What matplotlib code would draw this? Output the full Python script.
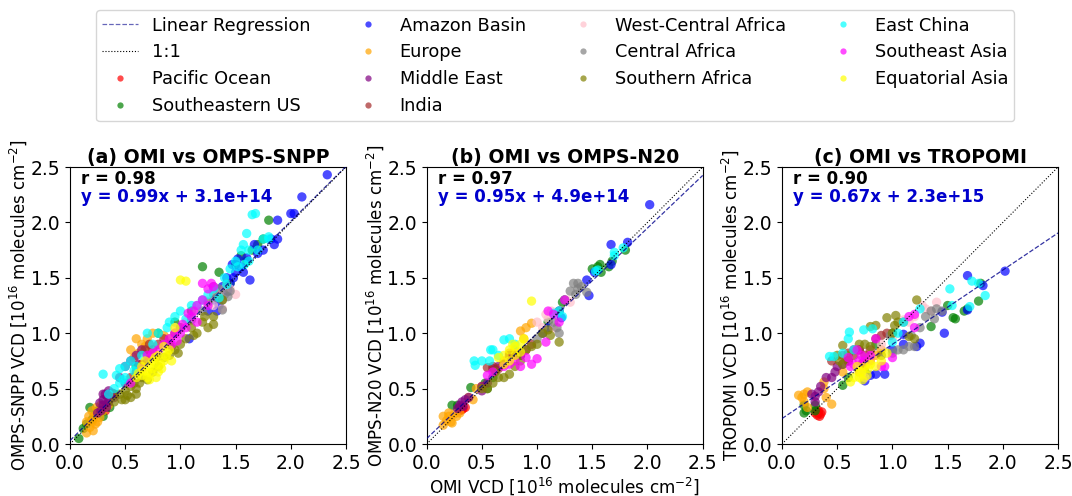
import matplotlib
matplotlib.use("Agg")
import matplotlib.pyplot as plt
from matplotlib.lines import Line2D
import numpy as np

# ---------------- data (units: 1e16 molecules cm^-2) ----------------
REGIONS = ["Pacific Ocean", "Southeastern US", "Amazon Basin", "Europe", "Middle East",
           "India", "West-Central Africa", "Central Africa", "Southern Africa",
           "East China", "Southeast Asia", "Equatorial Asia"]
COLORS = ["red", "green", "blue", "orange", "purple", "brown", "pink", "gray",
          "olive", "cyan", "magenta", "yellow"]

PANEL_TITLES = ["(a) OMI vs OMPS-SNPP", "(b) OMI vs OMPS-N20", "(c) OMI vs TROPOMI"]
PANEL_YLABELS = ["OMPS-SNPP VCD [$10^{16}$ molecules cm$^{-2}$]",
                 "OMPS-N20 VCD [$10^{16}$ molecules cm$^{-2}$]",
                 "TROPOMI VCD [$10^{16}$ molecules cm$^{-2}$]"]
X_LABEL = "OMI VCD [$10^{16}$ molecules cm$^{-2}$]"
R_VALUES = [0.98, 0.97, 0.90]
SLOPES = [0.99, 0.95, 0.67]
INTERCEPTS = [3.1e14, 4.9e14, 2.3e15]
FIT_TEXT = ["y = 0.99x + 3.1e+14", "y = 0.95x + 4.9e+14", "y = 0.67x + 2.3e+15"]
TICKS = [0.0, 0.5, 1.0, 1.5, 2.0, 2.5]

# Panel (a): OMI vs OMPS-SNPP
PAC_A = [(0.28, 0.30), (0.30, 0.32), (0.32, 0.30)]
SEUS_A = [(0.08, 0.05), (0.12, 0.14), (0.18, 0.33), (0.20, 0.22), (0.25, 0.30), (0.40, 0.45),
          (0.80, 1.00), (1.20, 1.60), (1.35, 1.55), (1.50, 1.62), (1.55, 1.70), (1.65, 1.75),
          (1.80, 2.02), (1.75, 1.85), (1.60, 1.65), (0.95, 1.10), (1.10, 1.20), (0.60, 0.70),
          (0.30, 0.25), (1.45, 1.45), (1.70, 1.80), (0.22, 0.26), (0.36, 0.33), (0.15, 0.18)]
AMZ_A = [(2.33, 2.43), (2.10, 2.23), (2.00, 2.08), (2.03, 2.08), (1.88, 2.02), (1.88, 1.85),
         (1.85, 1.80), (1.82, 1.85), (1.70, 1.72), (1.60, 1.68), (1.55, 1.60), (1.50, 1.55),
         (1.45, 1.45), (1.38, 1.42), (1.43, 1.38), (1.63, 1.48), (1.52, 1.67), (1.47, 1.62),
         (1.30, 1.30), (1.35, 1.25), (1.08, 0.95), (1.25, 1.20), (1.40, 1.40), (1.67, 1.80),
         (1.75, 1.75), (1.48, 1.50), (1.42, 1.50), (1.57, 1.55), (1.33, 1.20)]
EUR_A = [(0.15, 0.10), (0.18, 0.15), (0.20, 0.20), (0.22, 0.25), (0.25, 0.28), (0.15, 0.20),
         (0.20, 0.30), (0.28, 0.35), (0.30, 0.30), (0.23, 0.18), (0.25, 0.20), (0.35, 0.35),
         (0.60, 0.95), (0.65, 0.90), (0.70, 0.95), (0.75, 1.00), (0.85, 0.98), (0.55, 0.85),
         (0.90, 0.95), (0.62, 0.82), (0.17, 0.25), (0.21, 0.12), (0.27, 0.24), (0.24, 0.33),
         (0.68, 0.88), (0.58, 0.78)]
ME_A = [(0.28, 0.30), (0.30, 0.40), (0.32, 0.45), (0.35, 0.48), (0.30, 0.35), (0.35, 0.38),
        (0.25, 0.28), (0.40, 0.42), (0.50, 0.55), (0.55, 0.75), (0.60, 0.80), (0.65, 0.85),
        (0.70, 0.75), (0.50, 0.70), (0.45, 0.60), (0.33, 0.33), (0.30, 0.45), (0.34, 0.42),
        (0.38, 0.46), (0.27, 0.37), (0.62, 0.72)]
IND_A = [(0.55, 0.60), (0.60, 0.65), (0.70, 0.80), (0.75, 0.85), (0.80, 0.90), (0.85, 0.95),
         (0.90, 0.90), (0.95, 1.00), (1.00, 1.05), (0.65, 0.72), (0.78, 0.78), (0.40, 0.45),
         (0.68, 0.85), (0.72, 0.90)]
WCA_A = [(1.20, 1.30), (1.30, 1.25), (1.35, 1.35), (1.50, 1.35), (1.40, 1.40), (1.45, 1.40),
         (1.15, 1.20), (1.05, 1.10), (1.25, 1.30), (0.95, 1.05), (1.38, 1.22)]
CAF_A = [(1.30, 1.35), (1.35, 1.40), (1.40, 1.35), (1.45, 1.38), (1.38, 1.30), (1.25, 1.28),
         (1.38, 1.21), (1.42, 1.45), (1.30, 1.42), (1.20, 1.20), (1.10, 1.12), (1.00, 1.05),
         (1.33, 1.32), (1.43, 1.33)]
SAF_A = [(0.50, 0.40), (0.55, 0.42), (0.60, 0.45), (0.50, 0.48), (0.55, 0.52), (0.60, 0.50),
         (0.65, 0.60), (0.45, 0.45), (0.70, 0.58), (0.80, 0.70), (0.90, 0.80), (0.95, 0.85),
         (1.00, 0.90), (1.05, 0.95), (1.15, 1.00), (1.20, 1.10), (1.25, 1.05), (1.30, 1.15),
         (0.85, 0.78), (1.10, 1.05), (1.38, 1.30), (0.92, 0.88), (0.75, 0.65), (0.58, 0.55),
         (0.40, 0.38), (1.30, 1.08), (0.52, 0.44), (0.63, 0.55), (0.98, 0.82), (1.12, 0.98),
         (1.22, 1.15), (0.47, 0.40)]
ECH_A = [(0.30, 0.63), (0.40, 0.50), (0.45, 0.55), (0.50, 0.60), (0.50, 0.70), (0.55, 0.75),
         (0.60, 0.70), (0.65, 0.80), (0.70, 1.00), (0.75, 0.90), (0.80, 1.00), (0.90, 1.10),
         (0.95, 1.15), (1.00, 1.20), (1.10, 1.25), (1.15, 1.25), (1.20, 1.30), (1.30, 1.40),
         (1.40, 1.50), (1.45, 1.58), (1.50, 1.65), (1.55, 1.75), (1.57, 1.80), (1.65, 2.07),
         (1.68, 2.08), (1.60, 1.90), (1.62, 1.75), (1.70, 1.75), (1.75, 1.85), (1.80, 1.85),
         (1.52, 1.60), (0.35, 0.45), (0.45, 0.68), (1.35, 1.32), (1.62, 1.65), (1.80, 1.87),
         (0.42, 0.62), (0.48, 0.58), (0.58, 0.66), (0.88, 1.05), (1.05, 1.13), (1.25, 1.35),
         (1.42, 1.44), (1.58, 1.62)]
SEA_A = [(0.70, 0.80), (0.75, 0.82), (0.80, 0.85), (0.85, 0.90), (0.90, 0.95), (0.95, 1.00),
         (1.00, 1.00), (1.05, 1.05), (1.10, 1.15), (1.15, 1.25), (1.20, 1.30), (1.25, 1.40),
         (1.20, 1.45), (1.30, 1.42), (1.25, 1.25), (1.15, 1.10), (0.92, 0.90), (0.55, 0.55),
         (0.65, 0.68), (1.07, 1.18), (1.28, 1.45), (1.02, 1.08), (1.12, 1.20), (0.97, 0.93)]
EQA_A = [(0.60, 0.60), (0.65, 0.62), (0.70, 0.65), (0.72, 0.70), (0.75, 0.75), (0.78, 0.72),
         (0.80, 0.80), (0.85, 0.75), (0.88, 0.82), (0.70, 0.60), (0.75, 0.68), (0.80, 0.65),
         (0.82, 0.72), (0.90, 0.85), (0.65, 0.70), (0.68, 0.75), (0.85, 0.88), (0.78, 0.60),
         (0.95, 1.05), (1.00, 1.48), (1.05, 1.47), (0.92, 0.75), (0.72, 0.58), (0.73, 0.64),
         (0.77, 0.78), (0.83, 0.68), (0.87, 0.79), (0.66, 0.66), (0.62, 0.64)]

# Panel (b): OMI vs OMPS-N20
PAC_B = [(0.30, 0.30), (0.32, 0.31), (0.33, 0.32), (0.35, 0.33), (0.30, 0.33)]
SEUS_B = [(0.23, 0.35), (0.28, 0.35), (0.40, 0.51), (0.53, 0.55), (0.60, 0.60), (1.23, 1.28),
          (1.25, 1.30), (1.50, 1.58), (1.55, 1.60), (1.57, 1.62), (1.65, 1.60), (1.68, 1.65),
          (1.58, 1.55), (1.80, 1.75), (1.10, 1.10), (0.55, 0.50)]
AMZ_B = [(2.02, 2.16), (1.67, 1.80), (1.82, 1.82), (1.67, 1.62), (1.45, 1.48), (1.47, 1.34),
         (1.22, 1.14), (1.20, 1.20), (1.10, 1.05), (0.85, 0.80), (1.05, 1.00), (1.52, 1.55)]
EUR_B = [(0.15, 0.17), (0.15, 0.25), (0.20, 0.25), (0.22, 0.20), (0.20, 0.28), (0.25, 0.27),
         (0.27, 0.25), (0.23, 0.19), (0.18, 0.21), (0.42, 0.40), (0.45, 0.50), (0.50, 0.52),
         (0.85, 1.02), (0.90, 1.05), (0.95, 1.09), (0.88, 0.95), (0.80, 0.85), (0.70, 0.75),
         (0.75, 0.82), (0.38, 0.42), (0.30, 0.28)]
ME_B = [(0.30, 0.35), (0.32, 0.38), (0.35, 0.40), (0.38, 0.42), (0.28, 0.32), (0.33, 0.34),
        (0.50, 0.52), (0.55, 0.55), (0.50, 0.48), (0.62, 0.67), (0.65, 0.70), (0.60, 0.68),
        (0.70, 0.72)]
IND_B = [(0.55, 0.69), (0.60, 0.70), (0.65, 0.68), (0.80, 0.80), (0.85, 0.80), (0.90, 0.85),
         (0.95, 0.90), (0.75, 0.80), (0.70, 0.72)]
WCA_B = [(1.08, 1.17), (1.13, 1.20), (1.27, 1.30), (1.30, 1.28), (1.00, 1.10), (1.05, 1.05),
         (1.15, 1.05), (1.10, 1.13)]
CAF_B = [(1.33, 1.45), (1.37, 1.45), (1.40, 1.42), (1.45, 1.37), (1.30, 1.38), (1.35, 1.35),
         (1.25, 1.30), (1.20, 1.20), (1.18, 1.05), (1.20, 1.00), (1.00, 0.95), (1.05, 1.00),
         (1.15, 1.10), (1.37, 1.40)]
SAF_B = [(0.60, 0.55), (0.65, 0.60), (0.70, 0.60), (0.75, 0.63), (0.80, 0.70), (0.85, 0.75),
         (0.90, 0.85), (0.95, 0.88), (1.00, 0.90), (1.05, 1.00), (1.10, 1.03), (1.20, 0.92),
         (0.55, 0.50), (0.50, 0.50), (0.62, 0.65), (1.12, 0.98)]
ECH_B = [(0.43, 0.75), (0.44, 0.71), (0.50, 0.75), (0.58, 0.85), (0.60, 0.85), (0.70, 0.94),
         (0.75, 0.95), (0.80, 0.90), (0.57, 0.75), (1.15, 1.18), (1.20, 1.20), (1.23, 1.15),
         (1.55, 1.57), (1.53, 1.56), (1.70, 1.73), (1.70, 1.70), (1.78, 1.77), (0.65, 0.80)]
SEA_B = [(0.55, 0.62), (0.60, 0.65), (0.70, 0.70), (0.80, 0.75), (0.85, 0.70), (0.95, 0.72),
         (1.00, 0.77), (1.08, 0.92), (1.10, 1.20), (1.20, 1.10), (1.25, 1.30), (1.15, 1.17),
         (0.75, 0.72), (0.90, 0.78)]
EQA_B = [(0.95, 1.29), (0.70, 0.80), (0.75, 0.85), (0.80, 0.88), (0.85, 0.90), (0.80, 0.80),
         (0.75, 0.75), (0.70, 0.72), (0.85, 0.83), (0.78, 0.90), (0.65, 0.78), (0.88, 0.95)]

# Panel (c): OMI vs TROPOMI
PAC_C = [(0.30, 0.28), (0.32, 0.26), (0.33, 0.30), (0.35, 0.27), (0.34, 0.25), (0.31, 0.30),
         (0.33, 0.28), (0.36, 0.29)]
SEUS_C = [(0.20, 0.35), (0.22, 0.30), (0.30, 0.35), (0.20, 0.28), (0.55, 0.53), (0.60, 0.60),
          (0.75, 0.65), (1.00, 1.00), (1.35, 1.06), (1.50, 1.25), (1.55, 1.14), (1.57, 1.13),
          (1.65, 1.20), (1.68, 1.22), (1.78, 1.29), (1.80, 1.45), (0.30, 0.30), (0.85, 0.90)]
AMZ_C = [(1.68, 1.52), (2.02, 1.56), (1.82, 1.43), (1.68, 1.21), (1.47, 1.00), (1.45, 1.19),
         (1.25, 0.91), (1.22, 0.88), (1.10, 0.99), (1.10, 0.90), (0.93, 0.63), (0.75, 0.57),
         (0.85, 0.63), (0.80, 0.62), (1.00, 0.85)]
EUR_C = [(0.15, 0.44), (0.18, 0.42), (0.20, 0.45), (0.23, 0.47), (0.20, 0.38), (0.23, 0.33),
         (0.38, 0.56), (0.40, 0.42), (0.45, 0.36), (0.38, 0.50), (0.75, 0.70), (0.80, 0.75),
         (0.85, 0.80), (0.70, 0.65), (0.90, 0.85), (0.55, 0.65)]
ME_C = [(0.27, 0.45), (0.30, 0.43), (0.33, 0.47), (0.35, 0.52), (0.40, 0.60), (0.45, 0.60),
        (0.48, 0.65), (0.50, 0.70), (0.55, 0.72), (0.60, 0.75), (0.65, 0.85), (0.70, 0.85),
        (0.30, 0.38)]
IND_C = [(0.45, 0.75), (0.55, 0.80), (0.60, 0.82), (0.65, 0.80), (0.70, 0.85), (0.75, 0.80),
         (0.80, 0.85), (0.90, 0.98), (0.95, 1.00), (0.60, 0.75), (0.85, 0.95), (0.73, 0.73)]
WCA_C = [(1.27, 1.25), (1.40, 1.28), (1.35, 1.20), (1.15, 1.10), (1.00, 0.95), (1.10, 1.12),
         (1.20, 1.15), (0.90, 0.90), (0.75, 0.60), (0.72, 0.63), (1.30, 1.22)]
CAF_C = [(1.10, 0.85), (1.15, 0.88), (1.20, 0.88), (1.05, 0.85), (1.00, 0.82), (1.30, 1.15),
         (1.35, 1.20), (1.40, 1.22), (1.45, 1.20), (1.38, 1.13), (1.25, 1.05), (1.10, 1.10),
         (0.98, 0.98), (1.17, 0.98)]
SAF_C = [(0.55, 0.89), (0.60, 0.80), (0.50, 0.80), (0.52, 0.75), (0.55, 0.72), (0.75, 0.90),
         (0.80, 1.06), (0.85, 1.07), (0.95, 1.14), (1.03, 1.16), (1.02, 1.07), (1.22, 1.30),
         (1.15, 0.97), (1.00, 1.00), (0.90, 0.80), (0.70, 0.90), (1.05, 1.10), (1.20, 0.95),
         (0.80, 0.88)]
ECH_C = [(0.43, 0.79), (0.47, 0.79), (0.61, 1.01), (0.74, 1.03), (0.82, 1.04), (0.55, 0.82),
         (0.60, 0.95), (1.05, 1.00), (1.10, 1.10), (1.25, 1.22), (1.52, 1.40), (1.54, 1.25),
         (1.70, 1.24), (1.72, 1.47), (1.78, 1.45), (1.84, 1.34), (0.65, 0.85), (1.00, 0.92)]
SEA_C = [(0.60, 0.78), (0.65, 0.72), (0.70, 0.75), (0.72, 0.80), (0.75, 0.75), (0.80, 0.80),
         (0.85, 0.95), (0.90, 0.70), (0.93, 0.70), (1.00, 0.78), (1.20, 1.17), (1.20, 1.05),
         (1.15, 1.15), (0.62, 0.70), (0.68, 0.85)]
EQA_C = [(0.62, 0.56), (0.65, 0.60), (0.70, 0.60), (0.72, 0.65), (0.75, 0.70), (0.78, 0.68),
         (0.80, 0.72), (0.70, 0.65), (0.73, 0.58), (0.85, 0.70), (0.90, 0.75), (0.95, 0.82),
         (0.68, 0.70), (0.77, 0.62)]

PANEL_DATA = [
    [PAC_A, SEUS_A, AMZ_A, EUR_A, ME_A, IND_A, WCA_A, CAF_A, SAF_A, ECH_A, SEA_A, EQA_A],
    [PAC_B, SEUS_B, AMZ_B, EUR_B, ME_B, IND_B, WCA_B, CAF_B, SAF_B, ECH_B, SEA_B, EQA_B],
    [PAC_C, SEUS_C, AMZ_C, EUR_C, ME_C, IND_C, WCA_C, CAF_C, SAF_C, ECH_C, SEA_C, EQA_C],
]

# ---------------- figure ----------------
plt.rcParams['font.family'] = ['DejaVu Sans']
fig = plt.figure(figsize=(10.72, 4.96), dpi=100)

ax_w, ax_h = 0.2575, 0.5585
lefts = [0.0653, 0.398, 0.7295]
bottom = 0.1048
REG_COLOR = 'darkblue'
axes = []
for i in range(3):
    ax = fig.add_axes([lefts[i], bottom, ax_w, ax_h])
    axes.append(ax)
    for reg, col, pts in zip(REGIONS, COLORS, PANEL_DATA[i]):
        arr = np.array(pts)
        ax.scatter(arr[:, 0], arr[:, 1], s=45, color=col, alpha=0.7, edgecolors='none', zorder=2)
    xx = np.array([0.0, 2.5])
    slope = SLOPES[i]
    icpt = INTERCEPTS[i] / 1e16
    ax.plot(xx, slope * xx + icpt, ls='--', color=REG_COLOR, alpha=0.8, lw=0.9, zorder=3)
    ax.plot(xx, xx, ls=':', color='black', lw=0.8, zorder=3)
    ax.set_xlim(0, 2.5)
    ax.set_ylim(0, 2.5)
    ax.set_xticks(TICKS)
    ax.set_yticks(TICKS)
    ax.tick_params(labelsize=13.5)
    ax.set_title(PANEL_TITLES[i], fontsize=13.6, fontweight='bold', pad=3)
    ax.set_ylabel(PANEL_YLABELS[i], fontsize=12, labelpad=1)
    ax.text(0.04, 0.955, f"r = {R_VALUES[i]:.2f}", transform=ax.transAxes, fontsize=12,
            fontweight='bold', color='black', va='center', ha='left')
    ax.text(0.04, 0.89, FIT_TEXT[i], transform=ax.transAxes, fontsize=12,
            fontweight='bold', color='mediumblue', va='center', ha='left')

axes[1].set_xlabel(X_LABEL, fontsize=12.2, labelpad=2)

handles = [Line2D([], [], ls='--', color=REG_COLOR, alpha=0.6, lw=0.9),
           Line2D([], [], ls=':', color='black', lw=0.8)]
labels = ["Linear Regression", "1:1"]
for reg, col in zip(REGIONS, COLORS):
    handles.append(Line2D([], [], ls='', marker='o', ms=4.5, color=col, alpha=0.7,
                          markeredgewidth=0))
    labels.append(reg)

fig.legend(handles, labels, loc='upper center', bbox_to_anchor=(0.518, 0.997), ncol=4,
           fontsize=12.8, frameon=True, handlelength=2.0, columnspacing=2.2,
           labelspacing=0.5, borderpad=0.35)

fig.savefig("out.png", dpi=100)
